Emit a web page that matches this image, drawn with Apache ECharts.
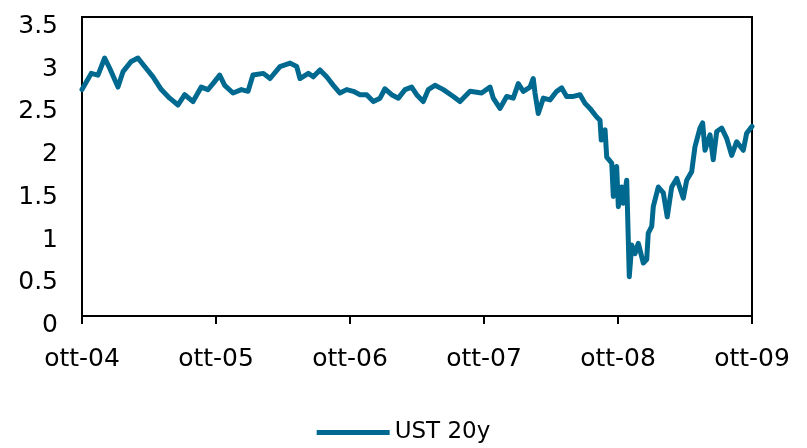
<!DOCTYPE html>
<html>
<head>
<meta charset="utf-8">
<script src="https://cdn.jsdelivr.net/npm/echarts@6/dist/echarts.min.js"></script>
<style>
  html, body { margin: 0; padding: 0; background: #fff; }
  #chart { width: 807px; height: 448px; }
</style>
</head>
<body>
<div id="chart"></div>
<script>
// months elapsed since ott-04
var months = [
  0, 0.83, 1.43, 2.03, 2.48, 3.22, 3.67, 4.41, 5.01, 5.61, 6.36, 7.10, 7.85, 8.60, 9.20, 9.94,
  10.68, 11.28, 11.73, 12.33, 12.78, 13.52, 14.27, 14.87, 15.31, 16.24, 16.84, 17.73, 18.63, 19.23,
  19.52, 20.27, 20.71, 21.31, 21.91, 22.51, 23.10, 23.70, 24.30, 24.90, 25.49, 26.09, 26.69, 27.13,
  27.73, 28.33, 28.93, 29.52, 29.97, 30.56, 31.01, 31.61, 32.36, 33.25, 33.85, 34.75, 35.79, 36.54,
  36.83, 37.43, 38.03, 38.62, 39.07, 39.52, 40.12, 40.41, 40.57, 40.86, 41.31, 41.91, 42.51, 42.96,
  43.40, 44.00, 44.60, 45.04, 45.49, 46.09, 46.39, 46.50, 46.84, 46.99, 47.44, 47.58, 47.88, 48.03,
  48.33, 48.48, 48.78, 49.01, 49.23, 49.52, 49.82, 50.27, 50.57, 50.71, 51.02, 51.16, 51.61, 52.06,
  52.41, 52.81, 53.26, 53.85, 54.15, 54.60, 54.89, 55.34, 55.58, 55.79, 56.24, 56.53, 56.84, 57.29,
  57.73, 58.18, 58.63, 59.22, 59.52, 60
];
var ust20y = [
  2.65, 2.84, 2.82, 3.02, 2.90, 2.68, 2.86, 2.98, 3.02, 2.92, 2.80, 2.65, 2.55, 2.47, 2.59, 2.51,
  2.68, 2.65, 2.72, 2.82, 2.70, 2.61, 2.65, 2.63, 2.82, 2.84, 2.78, 2.92, 2.96, 2.92,
  2.78, 2.84, 2.80, 2.88, 2.80, 2.70, 2.61, 2.65, 2.63, 2.59, 2.59, 2.51, 2.55, 2.66,
  2.59, 2.55, 2.65, 2.68, 2.59, 2.51, 2.65, 2.70, 2.65, 2.57, 2.51, 2.63, 2.61, 2.68,
  2.55, 2.43, 2.57, 2.55, 2.72, 2.63, 2.68, 2.78, 2.61, 2.37, 2.55, 2.53, 2.63, 2.67,
  2.57, 2.57, 2.59, 2.49, 2.43, 2.33, 2.29, 2.06, 2.18, 1.86, 1.79, 1.40, 1.75, 1.28,
  1.51, 1.32, 1.59, 0.46, 0.83, 0.73, 0.85, 0.62, 0.66, 0.97, 1.05, 1.28, 1.51, 1.44,
  1.16, 1.51, 1.61, 1.38, 1.59, 1.69, 1.98, 2.20, 2.26, 1.94, 2.12, 1.83, 2.16, 2.20,
  2.08, 1.88, 2.04, 1.94, 2.14, 2.22
];
var xTickLabels = ['ott-04', 'ott-05', 'ott-06', 'ott-07', 'ott-08', 'ott-09'];
var seriesName = 'UST 20y';

var points = months.map(function (m, i) { return [m, ust20y[i]]; });

var myChart = echarts.init(document.getElementById('chart'));
var font = 'DejaVu Sans';

myChart.setOption({
  animation: false,
  backgroundColor: '#fff',
  grid: {
    left: 82, right: 55, top: 17, bottom: 132,
    show: true, borderColor: '#000', borderWidth: 2
  },
  legend: {
    top: 416,
    left: 'center',
    icon: 'rect',
    itemWidth: 73,
    itemHeight: 5,
    itemGap: 10,
    textStyle: { fontFamily: font, fontSize: 23, color: '#000' },
    data: [seriesName]
  },
  xAxis: {
    type: 'value',
    min: 0, max: 60, interval: 12,
    splitLine: { show: false },
    axisLine: { lineStyle: { color: '#000', width: 2 } },
    axisTick: { show: true, length: 8, lineStyle: { color: '#000', width: 2 } },
    axisLabel: {
      margin: 31,
      fontFamily: font, fontSize: 25, color: '#000',
      formatter: function (v) { return xTickLabels[Math.round(v / 12)]; }
    }
  },
  yAxis: {
    type: 'value',
    min: 0, max: 3.5, interval: 0.5,
    splitLine: { show: false },
    axisLine: { show: true, lineStyle: { color: '#000', width: 2 } },
    axisTick: { show: false },
    axisLabel: {
      margin: 24, fontFamily: font, fontSize: 25, color: '#000',
      verticalAlign: 'top', lineHeight: 19
    }
  },
  series: [{
    name: seriesName,
    type: 'line',
    data: points,
    symbol: 'none',
    color: '#006990',
    lineStyle: { width: 5, color: '#006990', join: 'round', cap: 'round' }
  }]
});
</script>
</body>
</html>
